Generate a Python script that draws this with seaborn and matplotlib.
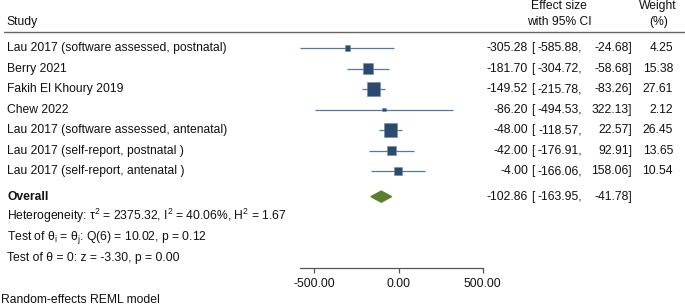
import numpy as np
import seaborn as sns
import matplotlib
matplotlib.use("Agg")
import matplotlib.pyplot as plt
from matplotlib.patches import Polygon
from matplotlib.lines import Line2D
from matplotlib.transforms import blended_transform_factory

# data
studies = ["Lau 2017 (software assessed, postnatal)", "Berry 2021", "Fakih El Khoury 2019",
           "Chew 2022", "Lau 2017 (software assessed, antenatal)",
           "Lau 2017 (self-report, postnatal )", "Lau 2017 (self-report, antenatal )"]
effects = [-305.28, -181.70, -149.52, -86.20, -48.00, -42.00, -4.00]
ci_low  = [-585.88, -304.72, -215.78, -494.53, -118.57, -176.91, -166.06]
ci_high = [-24.68, -58.68, -83.26, 322.13, 22.57, 92.91, 158.06]
weights = [4.25, 15.38, 27.61, 2.12, 26.45, 13.65, 10.54]
overall = [-102.86, -163.95, -41.78]
x_ticks = [-500, 0, 500]

sns.set_style("white")
plt.rcParams['font.family'] = ['Liberation Sans', 'DejaVu Sans']
plt.rcParams['mathtext.fontset'] = 'custom'
plt.rcParams['mathtext.rm'] = 'Liberation Sans'
plt.rcParams['mathtext.it'] = 'Liberation Sans:italic'

box_col  = "#2b4a6d"
line_col = "#56789a"
diam_col = "#5b7f2d"
txt_col  = "#111111"
fs = 8.75

fig = plt.figure(figsize=(6.85, 3.07), dpi=100)
ax = fig.add_axes([300 / 685, 39 / 307, 182.7 / 685, 268 / 307])

rows = np.arange(len(studies))
row_overall = 7.25

# confidence intervals and weighted squares
ax.hlines(rows, ci_low, ci_high, color=line_col, lw=0.9, zorder=1)
k = 3.4
sns.scatterplot(x=effects, y=rows, size=weights, sizes=(k * min(weights), k * max(weights)),
                marker="s", color=box_col, edgecolor="#6d8aa6", linewidth=0.4,
                legend=False, ax=ax, zorder=2)

# overall diamond
h = 0.27
ax.add_patch(Polygon([[overall[1], row_overall], [overall[0], row_overall - h],
                      [overall[2], row_overall], [overall[0], row_overall + h]],
                     closed=True, color=diam_col, zorder=2))

ax.set_xlim(ci_low[0], 500)
ax.set_ylim(10.73, -2.341)
ax.set_xticks(x_ticks)
ax.set_xticklabels([f"{t:.2f}" for t in x_ticks], fontsize=fs, color=txt_col)
ax.set_yticks([])
ax.set_xlabel("")
ax.set_ylabel("")
for s in ["top", "left", "right"]:
    ax.spines[s].set_visible(False)
ax.spines["bottom"].set_color("#555555")
ax.spines["bottom"].set_linewidth(0.9)
ax.tick_params(axis="x", direction="out", length=3.5, width=0.9, color="#555555", pad=3.5,
               bottom=True)
ax.patch.set_alpha(0)

tr = blended_transform_factory(fig.transFigure, ax.transData)
px = lambda x: x / 685

def put(x, y, s, ha="left", **kw):
    ax.text(px(x), y, s, transform=tr, ha=ha, va="center", fontsize=fs,
            color=txt_col, clip_on=False, **kw)

# header
put(6, -1.27, "Study")
put(559, -2.05, "Effect size", ha="center")
put(559, -1.27, "with 95% CI", ha="center")
put(658, -2.05, "Weight", ha="center")
put(659, -1.27, "(%)", ha="center")
ax.add_line(Line2D([px(4), 1.0], [-0.78, -0.78], transform=tr, color="#666666",
                   lw=1.0, clip_on=False))

# study rows
for i, name in enumerate(studies):
    put(7, i, name)
    put(528, i, f"{effects[i]:.2f}", ha="right")
    put(531, i, "[")
    put(582, i, f"{ci_low[i]:.2f},", ha="right")
    put(632, i, f"{ci_high[i]:.2f}]", ha="right")
    put(673, i, f"{weights[i]:.2f}", ha="right")

put(7, row_overall, "Overall", fontweight="bold")
put(528, row_overall, f"{overall[0]:.2f}", ha="right")
put(531, row_overall, "[")
put(582, row_overall, f"{overall[1]:.2f},", ha="right")
put(632, row_overall, f"{overall[2]:.2f}]", ha="right")

put(7, 8.2, r"Heterogeneity: τ$^2$ = 2375.32, I$^2$ = 40.06%, H$^2$ = 1.67")
put(7, 9.22, r"Test of θ$_{\mathrm{i}}$ = θ$_{\mathrm{j}}$: Q(6) = 10.02, p = 0.12")
put(7, 10.24, "Test of θ = 0: z = -3.30, p = 0.00")

fig.text(px(1), 1 - 300 / 307, "Random-effects REML model", ha="left", va="center",
         fontsize=fs, color=txt_col)

fig.savefig("out.png", dpi=100)
